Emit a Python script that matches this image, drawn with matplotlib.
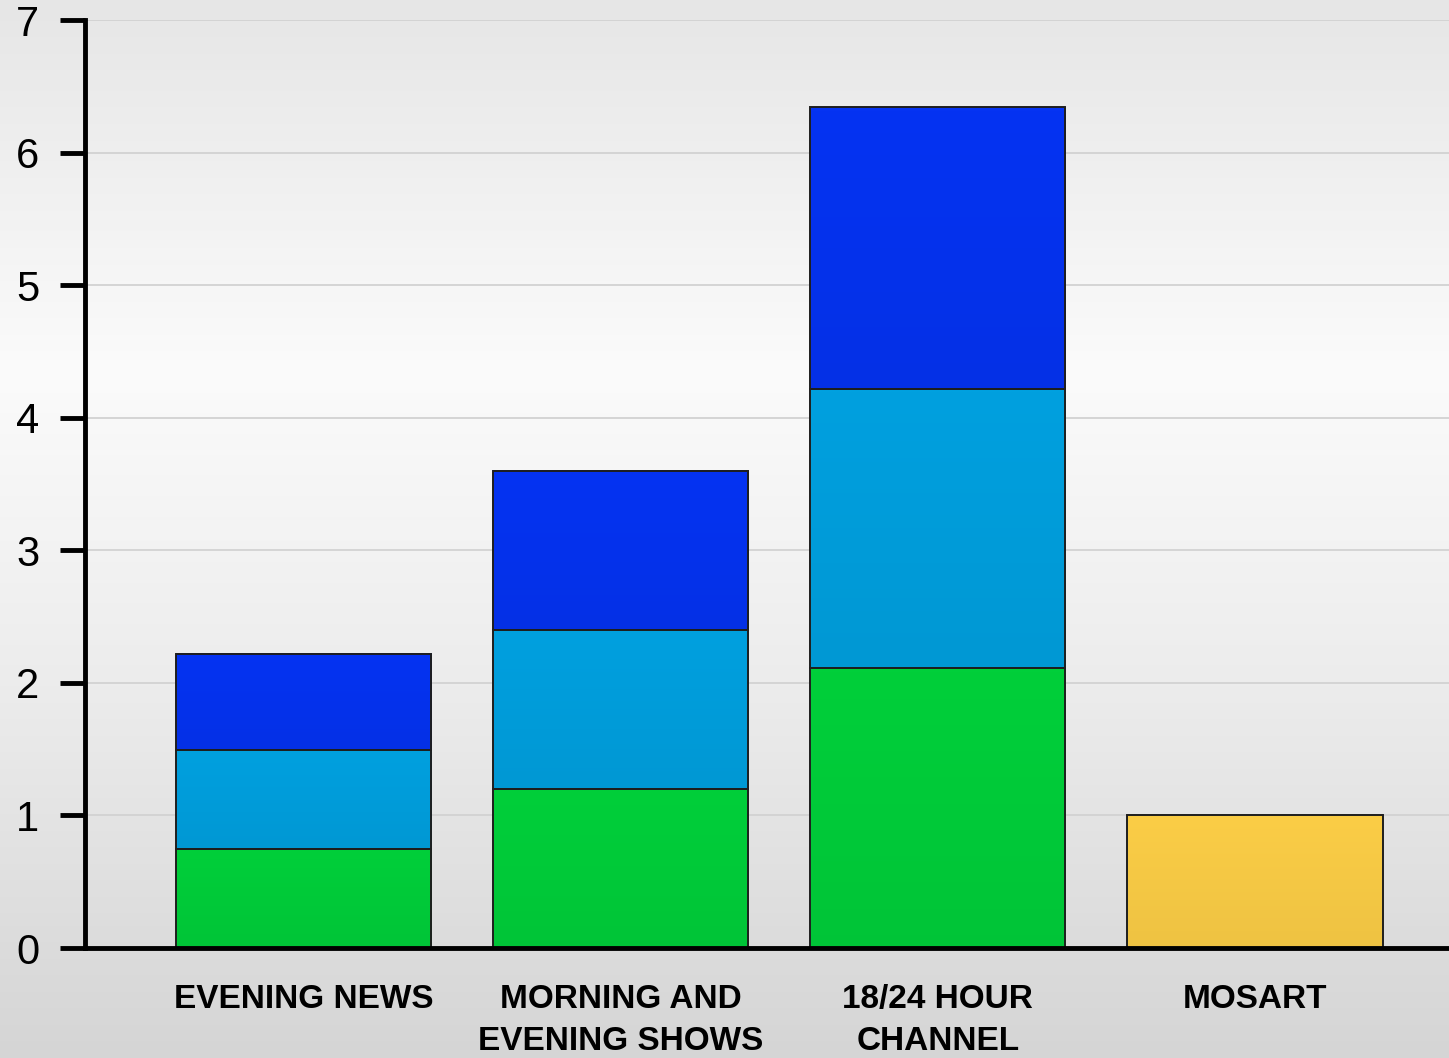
import numpy as np
import matplotlib.pyplot as plt
from matplotlib.colors import LinearSegmentedColormap, to_rgb

plt.rcParams['font.family'] = ['Liberation Sans', 'DejaVu Sans']

# data
categories = ['EVENING NEWS', 'MORNING AND\nEVENING SHOWS', '18/24 HOUR\nCHANNEL', 'MOSART']
green = [0.75, 1.20, 2.11, 0.0]
light_blue = [0.74, 1.20, 2.11, 0.0]
dark_blue = [0.73, 1.20, 2.12, 0.0]
mosart = [0.0, 0.0, 0.0, 1.0]
y_ticks = [0, 1, 2, 3, 4, 5, 6, 7]


def shade_bars(ax, bars, color):
    """Fill each bar with a slight top-to-bottom gradient."""
    top = np.array(to_rgb(color))
    cmap = LinearSegmentedColormap.from_list('g', [top * 0.95, top])
    for b in bars:
        x0, y0 = b.get_x(), b.get_y()
        w, h = b.get_width(), b.get_height()
        if h <= 0:
            continue
        ax.imshow(np.linspace(0, 1, 64).reshape(-1, 1), cmap=cmap, origin='lower',
                  aspect='auto', extent=[x0, x0 + w, y0, y0 + h], zorder=2.5)
        b.set_facecolor('none')


fig = plt.figure(figsize=(14.49, 10.58), dpi=100)

# grey background gradient, light in the middle
bg = fig.add_axes([0, 0, 1, 1], zorder=-5)
bg_cmap = LinearSegmentedColormap.from_list(
    'bg', [(0.0, '#d5d5d5'), (0.35, '#ececec'), (0.65, '#fbfbfb'), (1.0, '#e6e6e6')])
bg.imshow(np.linspace(0, 1, 256).reshape(-1, 1), aspect='auto', cmap=bg_cmap,
          origin='lower', extent=[0, 1, 0, 1])
bg.set_axis_off()

ax = fig.add_axes([85 / 1449, 110 / 1058, 1 - 85 / 1449, (948 - 20) / 1058])
ax.set_facecolor('none')

x = np.arange(len(categories))
w = 0.805
edge = dict(edgecolor='#1e1e1e', linewidth=1.4, zorder=3)

bottom = np.zeros(len(categories))
b1 = ax.bar(x[:3], green[:3], w, bottom=bottom[:3], color='#00cf3a', **edge)
bottom += green
b2 = ax.bar(x[:3], light_blue[:3], w, bottom=bottom[:3], color='#00a0df', **edge)
bottom += light_blue
b3 = ax.bar(x[:3], dark_blue[:3], w, bottom=bottom[:3], color='#0533f2', **edge)
b4 = ax.bar(x[3:], mosart[3:], w, color='#fbcd46', **edge)

for bars, c in [(b1, '#00cf3a'), (b2, '#00a0df'), (b3, '#0533f2'), (b4, '#fbcd46')]:
    shade_bars(ax, bars, c)

ax.set_xlim(-0.689, 3.612)
ax.set_ylim(0, 7)
ax.set_yticks(y_ticks)
ax.set_xticks(x)
ax.set_xticklabels(categories, fontsize=24, fontweight='bold', linespacing=1.45)

ax.yaxis.grid(True, color='#d2d2d2', linewidth=1.3, zorder=0)
ax.set_axisbelow(True)

for s in ['top', 'right']:
    ax.spines[s].set_visible(False)
for s in ['left', 'bottom']:
    ax.spines[s].set_linewidth(3.5)
    ax.spines[s].set_color('black')
    ax.spines[s].set_zorder(4)

ax.tick_params(axis='y', length=18, width=3.5, direction='out', labelsize=30,
               pad=15, colors='black')
ax.tick_params(axis='x', length=0, pad=26, colors='black')

fig.savefig('out.png', dpi=100)
